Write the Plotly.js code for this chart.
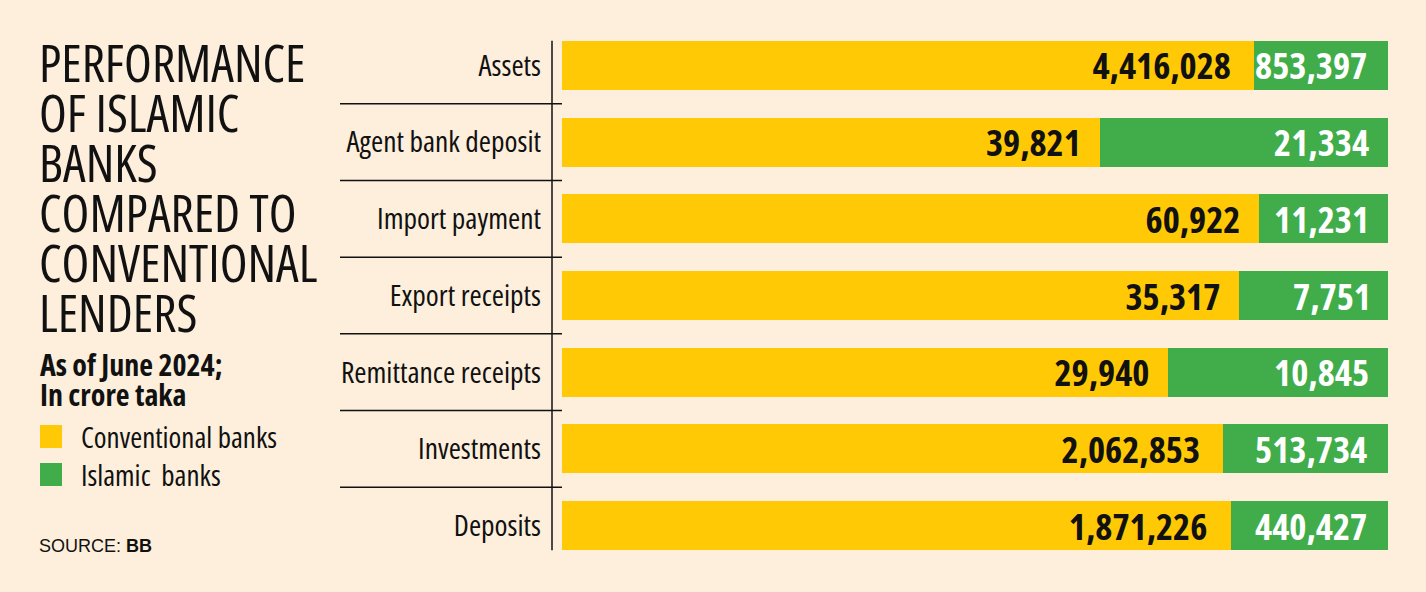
<!DOCTYPE html>
<html>
<head>
<meta charset="utf-8">
<script src="https://cdn.plot.ly/plotly-3.0.1.min.js"></script>
<style>
html,body{margin:0;padding:0;background:#FDEFDC;}
#chart{width:1426px;height:592px;}
#chart text{font-stretch:75% !important;}
</style>
</head>
<body>
<div id="chart"></div>
<script>
const categories = ["Assets","Agent bank deposit","Import payment","Export receipts","Remittance receipts","Investments","Deposits"];
const conventional = [4416028, 39821, 60922, 35317, 29940, 2062853, 1871226];
const islamic = [853397, 21334, 11231, 7751, 10845, 513734, 440427];
const seriesNames = ["Conventional banks","Islamic  banks"];
const titleLines = ["PERFORMANCE","OF ISLAMIC","BANKS","COMPARED TO","CONVENTIONAL","LENDERS"];
const subtitleLines = ["As of June 2024;","In crore taka"];

const NARROW = "Open Sans, DejaVu Sans Condensed, sans-serif";
const YELLOW = "#FFCA05";
const GREEN = "#40AD4A";
const BG = "#FDEFDC";

const W = 1426, H = 592;
const L = 562, R = 38, T = 27, B = 28;
const pw = W - L - R, ph = H - T - B;
const px = x => (x - L) / pw;        // pixel -> paper x
const py = y => 1 - (y - T) / ph;   // pixel -> paper y

const traces = [
  {
    type: "bar", orientation: "h", name: seriesNames[0],
    y: categories, x: conventional, customdata: conventional,
    marker: {color: YELLOW, line: {width: 0}},
    texttemplate: "%{customdata:,}\u2009", textposition: "inside", insidetextanchor: "end",
    constraintext: "none", cliponaxis: false,
    insidetextfont: {family: NARROW, size: 36.5, color: "#111", weight: "bold"},
    hoverinfo: "skip"
  },
  {
    type: "bar", orientation: "h", name: seriesNames[1],
    y: categories, x: islamic, customdata: islamic,
    marker: {color: GREEN, line: {width: 0}},
    texttemplate: "%{customdata:,}\u2009", textposition: "inside", insidetextanchor: "end",
    constraintext: "none", cliponaxis: false,
    insidetextfont: {family: NARROW, size: 36.5, color: "#fff", weight: "bold"},
    hoverinfo: "skip"
  }
];

const bargap = 0.36;
const half = (1 - bargap) / 2;
const shapes = [];
shapes.push({type: "line", xref: "paper", yref: "y", x0: px(552), x1: px(552), y0: -half, y1: categories.length - 1 + half,
  line: {color: "#111", width: 1.5}});
for (let i = 0; i < categories.length - 1; i++) {
  shapes.push({type: "line", xref: "paper", yref: "y", x0: px(340), x1: 0, y0: i + 0.5, y1: i + 0.5,
    line: {color: "#111", width: 1.5}});
}
const legendColors = [YELLOW, GREEN];
const legendTop = [425, 463];
legendColors.forEach((c, i) => {
  shapes.push({type: "rect", xref: "paper", yref: "paper", x0: px(40), x1: px(62), y0: py(legendTop[i]), y1: py(legendTop[i] + 23),
    fillcolor: c, line: {width: 0}});
});

const annotations = [];
titleLines.forEach((t, i) => {
  const baseline = 81.7 + i * 50;
  annotations.push({xref: "paper", yref: "paper", x: px(37), y: py(baseline - 20), xanchor: "left", yanchor: "middle", align: "left",
    text: t, showarrow: false, font: {family: NARROW, size: 51, color: "#111"}});
});
const subBase = [375, 405];
subtitleLines.forEach((t, i) => {
  annotations.push({xref: "paper", yref: "paper", x: px(38), y: py(subBase[i] - 11), xanchor: "left", yanchor: "middle", align: "left",
    text: t, showarrow: false, font: {family: NARROW, size: 30, color: "#111", weight: "bold"}});
});
seriesNames.forEach((t, i) => {
  annotations.push({xref: "paper", yref: "paper", x: px(79), y: py(legendTop[i] + 11.5), xanchor: "left", yanchor: "middle", align: "left",
    text: t.replace(/  /g, "\u00a0 "), showarrow: false, font: {family: NARROW, size: 29, color: "#111"}});
});
annotations.push({xref: "paper", yref: "paper", x: px(37), y: py(545.5), xanchor: "left", yanchor: "middle", align: "left",
  text: "SOURCE: <b>BB</b>", showarrow: false, font: {family: "Liberation Sans, Arial, sans-serif", size: 18, color: "#111"}});

const layout = {
  width: W, height: H,
  paper_bgcolor: BG, plot_bgcolor: BG,
  margin: {l: L, r: R, t: T, b: B, pad: 0},
  barmode: "stack", barnorm: "percent", bargap: bargap,
  showlegend: false,
  xaxis: {range: [0, 100], visible: false, fixedrange: true},
  yaxis: {type: "category", autorange: "reversed", showgrid: false, zeroline: false, showline: false,
    ticks: "", ticklabelstandoff: 20,
    tickfont: {family: NARROW, size: 29.5, color: "#111"}, fixedrange: true},
  shapes: shapes, annotations: annotations,
  font: {family: NARROW}
};

Plotly.newPlot("chart", traces, layout, {displayModeBar: false, staticPlot: true});
</script>
</body>
</html>
